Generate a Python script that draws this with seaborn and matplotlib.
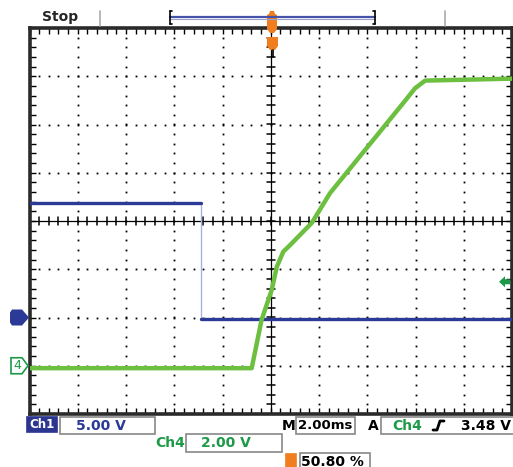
import numpy as np
import pandas as pd
import seaborn as sns
import matplotlib
matplotlib.use("Agg")
import matplotlib.pyplot as plt
from matplotlib.patches import Polygon, Rectangle
from matplotlib.lines import Line2D
from matplotlib.ticker import MultipleLocator

# ---------------- data (time in ms, voltages in V) ----------------
time_ch1 = [-10.0, -2.89, -2.89, 10.0]
volt_ch1 = [11.9, 11.9, -0.2, -0.2]

time_ch4 = [-10.0, -0.79, -0.38, 0.04, 0.25, 0.52, 0.80, 1.70, 2.46, 5.50, 5.98, 6.40, 10.0]
volt_ch4 = [-0.1, -0.1, 1.9, 3.14, 4.1, 4.73, 5.0, 5.92, 7.16, 10.9, 11.5, 11.82, 11.9]

ch1_scale, ch1_pos = 5.0, -2.0      # V/div, ground position (div)
ch4_scale, ch4_pos = 2.0, -3.0
time_scale = 2.0                    # ms/div
trigger_level = 3.48                # V on Ch4

label_ch1 = "Ch1"
label_ch1_scale = "5.00 V"
label_ch4 = "Ch4"
label_ch4_scale = "2.00 V"
label_time = "2.00ms"
label_trig_val = "3.48 V"
label_pos = "50.80 %"
label_state = "Stop"

BLUE = "#2b3a96"
BLUE_LIGHT = "#aab0e0"
GREEN = "#6cbf3f"
GREEN_TXT = "#1c9a48"
ORANGE = "#f07d1e"

df1 = pd.DataFrame({"t": time_ch1, "div": np.array(volt_ch1) / ch1_scale + ch1_pos})
df4 = pd.DataFrame({"t": time_ch4, "div": np.array(volt_ch4) / ch4_scale + ch4_pos})

sns.set_style("white")
plt.rcParams["font.family"] = ["DejaVu Sans"]

W, H = 513, 467
fig = plt.figure(figsize=(W / 100, H / 100), dpi=100)
fig.patch.set_facecolor("white")

def fx(x):
    return x / W

def fy(y):
    return 1 - y / H

L, R, T, B = 29.5, 512, 28, 414
ax = fig.add_axes([fx(L), fy(B), (R - L) / W, (B - T) / H])
ax.set_xlim(-5 * time_scale, 5 * time_scale)
ax.set_ylim(-4, 4)

# graticule dots
for gx in np.arange(-4, 5) * time_scale:
    if gx == 0:
        continue
    ys = np.arange(-4, 4.001, 0.2)
    ax.plot(np.full_like(ys, gx), ys, ls="none", marker="s", ms=1.3, mew=0,
            color="black", zorder=1)
for gy in range(-3, 4):
    if gy == 0:
        continue
    xs = np.arange(-10, 10.001, 0.4)
    ax.plot(xs, np.full_like(xs, gy), ls="none", marker="s", ms=1.3, mew=0,
            color="black", zorder=1)

# center crosshair with ticks
ax.axhline(0, color="black", lw=0.9, zorder=1)
ax.axvline(0, color="black", lw=0.9, zorder=1)
for xv in np.arange(-10, 10.001, 0.4):
    ax.plot([xv, xv], [-0.08, 0.08], color="black", lw=1.1, zorder=1)
for yv in np.arange(-4, 4.001, 0.2):
    ax.plot([-0.16, 0.16], [yv, yv], color="black", lw=1.1, zorder=1)

# traces
ax.plot(df1["t"], df1["div"], color=BLUE_LIGHT, lw=1.0, zorder=2)
sns.lineplot(data=df1.iloc[:2], x="t", y="div", ax=ax, color=BLUE, lw=2.4,
             estimator=None, sort=False, zorder=3)
sns.lineplot(data=df1.iloc[2:], x="t", y="div", ax=ax, color=BLUE, lw=2.4,
             estimator=None, sort=False, zorder=3)
sns.lineplot(data=df4, x="t", y="div", ax=ax, color=GREEN, lw=3.2,
             estimator=None, sort=False, zorder=4)

ax.set_xlabel("")
ax.set_ylabel("")
ax.xaxis.set_major_locator(MultipleLocator(0.4))
ax.yaxis.set_major_locator(MultipleLocator(0.2))
ax.tick_params(which="major", direction="in", length=4, width=1, color="black",
               top=True, right=True, bottom=True, left=True,
               labelbottom=False, labelleft=False)
for s in ax.spines.values():
    s.set_linewidth(2.6)
    s.set_color("#2a2a2a")
    s.set_visible(True)

# right trigger level arrow (Ch4)
trig_div = trigger_level / ch4_scale + ch4_pos
ty = 221 - trig_div * 48.25
fig.add_artist(Polygon([[fx(499), fy(ty)], [fx(505), fy(ty - 5.5)], [fx(505), fy(ty - 2.5)],
                        [fx(510), fy(ty - 2.5)], [fx(510), fy(ty + 2.5)], [fx(505), fy(ty + 2.5)],
                        [fx(505), fy(ty + 5.5)]], closed=True, color=GREEN_TXT, lw=0))

# left ground markers
g1 = 221 - ch1_pos * 48.25
fig.add_artist(Polygon([[fx(12), fy(g1 - 8)], [fx(22), fy(g1 - 8)], [fx(29), fy(g1)],
                        [fx(22), fy(g1 + 8)], [fx(12), fy(g1 + 8)], [fx(10), fy(g1 + 5)],
                        [fx(10), fy(g1 - 5)]], closed=True, color=BLUE, lw=0))
g4 = 221 - ch4_pos * 48.25
fig.add_artist(Polygon([[fx(11), fy(g4 - 8)], [fx(22), fy(g4 - 8)], [fx(28), fy(g4)],
                        [fx(22), fy(g4 + 8)], [fx(11), fy(g4 + 8)]], closed=True,
                       fill=False, edgecolor=GREEN_TXT, lw=1.2))
fig.text(fx(17), fy(g4), "4", color=GREEN_TXT, fontsize=9, ha="center", va="center")

# top bar
fig.text(fx(60), fy(17), label_state, fontsize=10, fontweight="bold", ha="center", va="center")
for xv in (100, 445):
    fig.add_artist(Line2D([fx(xv), fx(xv)], [fy(11), fy(26)], color="#aaaaaa", lw=1.2))
fig.add_artist(Line2D([fx(170), fx(375)], [fy(16.5), fy(16.5)], color="#4652a8", lw=1.6))
fig.add_artist(Line2D([fx(170), fx(375)], [fy(18.5), fy(18.5)], color="#9aa0c8", lw=0.8))
for xv, d in ((170, 1), (375, -1)):
    fig.add_artist(Line2D([fx(xv), fx(xv)], [fy(11), fy(24)], color="black", lw=1.2))
    fig.add_artist(Line2D([fx(xv), fx(xv + 2 * d)], [fy(11), fy(11)], color="black", lw=1.2))
    fig.add_artist(Line2D([fx(xv), fx(xv + 2 * d)], [fy(24), fy(24)], color="black", lw=1.2))
# orange trigger position markers
fig.add_artist(Polygon([[fx(270), fy(11)], [fx(274), fy(11)], [fx(275), fy(14)], [fx(277), fy(15)],
                        [fx(277), fy(29)], [fx(274), fy(33)], [fx(270), fy(33)], [fx(267), fy(29)],
                        [fx(267), fy(15)], [fx(269), fy(14)]], closed=True, color=ORANGE, lw=0))
fig.add_artist(Polygon([[fx(267), fy(37)], [fx(278), fy(37)], [fx(278), fy(46)], [fx(275), fy(50)],
                        [fx(270), fy(50)], [fx(267), fy(46)]], closed=True, color=ORANGE, lw=0))
fig.add_artist(Line2D([fx(272.5), fx(272.5)], [fy(50), fy(57)], color="black", lw=1.2))

# bottom info boxes
def box(x0, y0, x1, y1, fc="white", ec="#888888"):
    fig.add_artist(Rectangle((fx(x0), fy(y1)), fx(x1) - fx(x0), fy(y0) - fy(y1),
                             facecolor=fc, edgecolor=ec, lw=1.2))

box(27, 417, 57, 432, fc="#2c3590", ec="#2c3590")
fig.text(fx(42), fy(425), label_ch1, color="white", fontsize=8.5, fontweight="bold",
         ha="center", va="center")
box(60, 417, 155, 434)
fig.text(fx(101), fy(425.5), label_ch1_scale, color=BLUE, fontsize=10, fontweight="bold",
         ha="center", va="center")

fig.text(fx(289), fy(425.5), "M", color="black", fontsize=10, fontweight="bold",
         ha="center", va="center")
box(296, 417, 355, 434)
fig.text(fx(325.5), fy(425.5), label_time, color="black", fontsize=9.5, fontweight="bold",
         ha="center", va="center")
fig.text(fx(373), fy(425.5), "A", color="black", fontsize=10, fontweight="bold",
         ha="center", va="center")
box(381, 417, 514, 434)
fig.text(fx(407), fy(425.5), label_ch4, color=GREEN_TXT, fontsize=10, fontweight="bold",
         ha="center", va="center")
# rising-edge symbol
fig.add_artist(Line2D([fx(433), fx(437), fx(440), fx(444)],
                      [fy(430), fy(430), fy(421), fy(421)], color="black", lw=2.0))
fig.text(fx(511), fy(425.5), label_trig_val, color="black", fontsize=10, fontweight="bold",
         ha="right", va="center")

fig.text(fx(170), fy(443), label_ch4, color=GREEN_TXT, fontsize=10, fontweight="bold",
         ha="center", va="center")
box(186, 434, 282, 452)
fig.text(fx(226), fy(443), label_ch4_scale, color=GREEN_TXT, fontsize=10, fontweight="bold",
         ha="center", va="center")

box(286, 454, 296, 468, fc=ORANGE, ec=ORANGE)
box(300, 453, 370, 470)
fig.text(fx(332), fy(461.5), label_pos, color="black", fontsize=10, fontweight="bold",
         ha="center", va="center")

fig.savefig("out.png", dpi=100, facecolor="white")
